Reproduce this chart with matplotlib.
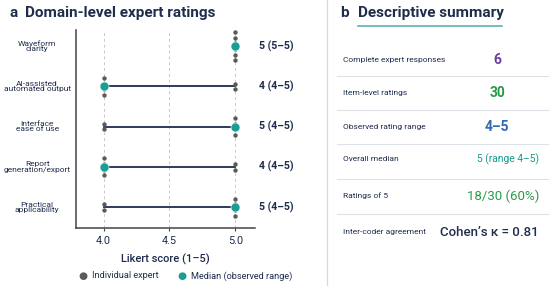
import matplotlib
matplotlib.use("Agg")
import matplotlib.pyplot as plt
import numpy as np

plt.rcParams['font.family'] = ['Roboto', 'DejaVu Sans']

navy = "#1f2d4d"
teal = "#16a095"
grey = "#5a5a5a"

domains = ["Waveform\nclarity", "AI-assisted\nautomated output", "Interface\nease of use",
           "Report\ngeneration/export", "Practical\napplicability"]
ratings = [[5, 5, 5, 5, 5, 5],
           [4, 4, 4, 4, 5, 5],
           [4, 4, 5, 5, 5, 5],
           [4, 4, 4, 4, 5, 5],
           [4, 4, 5, 5, 5, 5]]
medians = [5, 4, 5, 4, 5]
range_labels = ["5 (5–5)", "4 (4–5)", "5 (4–5)", "4 (4–5)", "5 (4–5)"]
xticks = [4.0, 4.5, 5.0]

summary_labels = ["Complete expert responses", "Item-level ratings", "Observed rating range",
                  "Overall median", "Ratings of 5", "Inter-coder agreement"]
summary_values = ["6", "30", "4–5", "5 (range 4–5)", "18/30 (60%)", "Cohen’s κ = 0.81"]
summary_colors = ["#6b3fa0", "#2a9a4a", "#2f6aad", "#169a8c", "#2a9a4a", navy]

W, H = 550, 286
fig = plt.figure(figsize=(W / 100, H / 100), dpi=100)


def fx(px):
    return px / W


def fy(py):
    return 1 - py / H


# panel a
ax = fig.add_axes([fx(76), fy(228), fx(255 - 76), (228 - 30) / H])
spacing = 0.14
for i, (vals, med) in enumerate(zip(ratings, medians)):
    lo, hi = min(vals), max(vals)
    if hi > lo:
        ax.plot([lo, hi], [i, i], color=navy, lw=1.3, zorder=2)
    for v in sorted(set(vals)):
        n = vals.count(v)
        offs = (np.arange(n) - (n - 1) / 2) * spacing
        ax.scatter([v] * n, i + offs, s=10, color=grey, zorder=3, linewidths=0)
    ax.scatter([med], [i], s=42, color=teal, zorder=4, edgecolors="white", linewidths=0.4)
    ax.text(5.18, i, range_labels[i], ha="left", va="center", fontsize=7.6,
            fontweight="bold", color=navy, clip_on=False)

for xv in xticks:
    ax.axvline(xv, color="#c8c8c8", lw=0.7, ls=(0, (3, 3)), zorder=1)

ax.set_xlim(3.79, 5.15)
ax.set_ylim(4.52, -0.4)
ax.set_xticks(xticks)
ax.set_xticklabels([f"{v:.1f}" for v in xticks], fontsize=7.8, color=navy)
ax.set_yticks(range(len(domains)))
ax.set_yticklabels(domains, fontsize=6.0, color=navy, ha="center", linespacing=0.85)
ax.tick_params(axis="y", length=0, pad=28)
ax.tick_params(axis="x", length=2.5, color="#444444", pad=3)
for s in ["top", "right"]:
    ax.spines[s].set_visible(False)
for s in ["left", "bottom"]:
    ax.spines[s].set_color("#444444")
    ax.spines[s].set_linewidth(1.1)
ax.set_xlabel("Likert score (1–5)", fontsize=8, fontweight="medium", color=navy, labelpad=6)

fig.text(fx(10), fy(13), "a", fontsize=11, fontweight="bold", color=navy, va="center")
fig.text(fx(25), fy(13), "Domain-level expert ratings", fontsize=11, fontweight="bold",
         color=navy, va="center")

# legend
fig.text(fx(83), fy(276), "●", fontsize=7.5, color=grey, ha="center", va="center",
         family="DejaVu Sans")
fig.text(fx(92), fy(276), "Individual expert", fontsize=6.6, color=navy, va="center")
fig.text(fx(182), fy(276), "●", fontsize=7.5, color=teal, ha="center", va="center",
         family="DejaVu Sans")
fig.text(fx(191), fy(276), "Median (observed range)", fontsize=6.6, color=navy, va="center")

# divider
fig.add_artist(plt.Line2D([fx(327), fx(327)], [0, 1], color="#d9d9d9", lw=0.9))

# panel b
fig.text(fx(340), fy(13), "b", fontsize=11, fontweight="bold", color=navy, va="center")
fig.text(fx(358), fy(13), "Descriptive summary", fontsize=11, fontweight="bold",
         color=navy, va="center")
fig.add_artist(plt.Line2D([fx(358), fx(502)], [fy(26), fy(26)], color="#5fb3aa", lw=1.2))

row_y = [60, 93, 127, 159, 196, 232]
sep_y = [76, 110, 144, 179, 214]
value_pos = ["c", "c", "c", "r", "r", "r"]
value_size = [10, 10, 10, 7.4, 9.5, 9.5]
for k, (lab, val, col) in enumerate(zip(summary_labels, summary_values, summary_colors)):
    fig.text(fx(343), fy(row_y[k]), lab, fontsize=6.0, color=navy, va="center")
    if value_pos[k] == "c":
        fig.text(fx(497), fy(row_y[k]), val, fontsize=value_size[k], fontweight="bold",
                 color=col, ha="center", va="center")
    else:
        fig.text(fx(539), fy(row_y[k]), val, fontsize=value_size[k],
                 fontweight="medium" if k == 5 else "normal",
                 color=col, ha="right", va="center")
for yv in sep_y:
    fig.add_artist(plt.Line2D([fx(337), fx(548)], [fy(yv), fy(yv)], color="#dde2e8", lw=0.8))

fig.savefig("out.png", dpi=100)
